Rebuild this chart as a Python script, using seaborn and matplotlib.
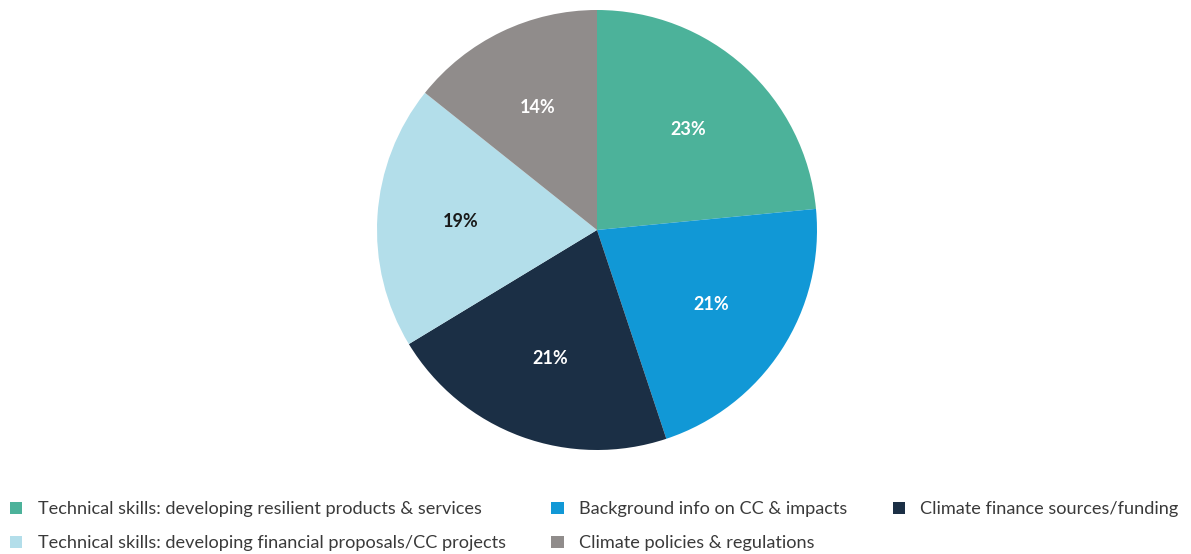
import matplotlib
matplotlib.use("Agg")
import matplotlib.pyplot as plt
from matplotlib.patches import Patch
import seaborn as sns

categories = [
    "Technical skills: developing resilient products & services",
    "Background info on CC & impacts",
    "Climate finance sources/funding",
    "Technical skills: developing financial proposals/CC projects",
    "Climate policies & regulations",
]
shares = [23, 21, 21, 19, 14]
colors = ["#4cb29a", "#1198d6", "#1b2f45", "#b3deea", "#908c8b"]
label_colors = ["white", "white", "white", "#1a1a1a", "white"]

sns.set_theme(style="white")
plt.rcParams["font.family"] = ["Lato", "DejaVu Sans"]

fig = plt.figure(figsize=(11.91, 5.54), dpi=100)
ax = fig.add_axes([377 / 1191, 1 - 450 / 554, 440 / 1191, 440 / 554])

wedges, texts, autotexts = ax.pie(
    shares,
    colors=colors,
    startangle=90,
    counterclock=False,
    autopct="%d%%",
    pctdistance=0.62,
    wedgeprops=dict(linewidth=0),
    textprops=dict(fontsize=13, fontweight="bold"),
)
for t, c in zip(autotexts, label_colors):
    t.set_color(c)
ax.set_xlim(-1, 1)
ax.set_ylim(-1, 1)
ax.set_aspect("equal")
ax.axis("off")

# Legend laid out in three columns, filled column by column
order = [0, 3, 1, 4, 2]
handles = [Patch(facecolor=colors[i], edgecolor="none") for i in order]
labels = [categories[i] for i in order]
fig.legend(
    handles, labels,
    loc="upper left",
    bbox_to_anchor=(3 / 1191, 1 - 494 / 554),
    borderaxespad=0,
    ncol=3,
    frameon=False,
    fontsize=13.1,
    handlelength=0.67,
    handleheight=0.67,
    handletextpad=0.85,
    columnspacing=2.5,
    labelspacing=1.0,
    labelcolor="#3a3a3a",
)

fig.savefig("out.png", dpi=100, facecolor="white")
